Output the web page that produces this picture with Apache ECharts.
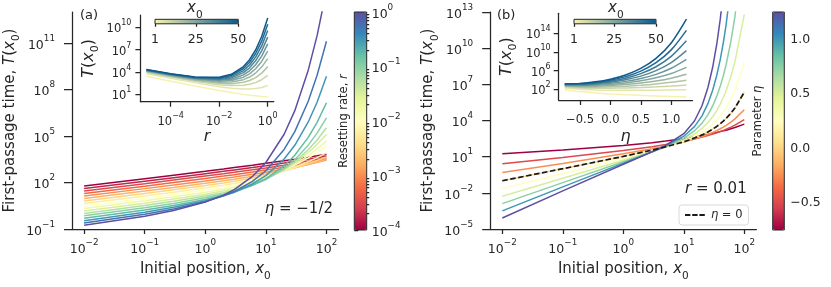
<!DOCTYPE html>
<html><head><meta charset="utf-8">
<script src="https://cdn.jsdelivr.net/npm/echarts@6/dist/echarts.min.js"></script>
<style>html,body{margin:0;padding:0;background:#fff}#c{width:831px;height:287px}</style>
</head><body><div id="c"></div><script>
// ---------------- DATA ----------------
// Panel (a) main: initial positions x0 and log10 T(x0) for resetting rates r = 10^(-4 ... 0)
const aX0 = [0.01, 0.1, 0.3, 1, 2, 3, 6, 10, 20, 30, 50, 70, 100];
const aLog10R = [-4, -3.75, -3.5, -3.25, -3, -2.75, -2.5, -2.25, -2, -1.75, -1.5, -1.25, -1, -0.75, -0.5, -0.25, 0];
const aLogT_k00 = [1.773, 2.244, 2.473, 2.727, 2.875, 2.964, 3.118, 3.235, 3.400, 3.501, 3.634, 3.726, 3.828];
const aLogT_k01 = [1.611, 2.083, 2.313, 2.569, 2.719, 2.809, 2.967, 3.087, 3.257, 3.362, 3.503, 3.602, 3.713];
const aLogT_k02 = [1.449, 1.923, 2.154, 2.412, 2.565, 2.656, 2.818, 2.942, 3.119, 3.230, 3.382, 3.488, 3.604];
const aLogT_k03 = [1.287, 1.764, 1.996, 2.257, 2.412, 2.506, 2.672, 2.801, 2.987, 3.107, 3.269, 3.382, 3.518];
const aLogT_k04 = [1.126, 1.605, 1.839, 2.104, 2.262, 2.358, 2.531, 2.665, 2.864, 2.993, 3.169, 3.298, 3.444];
const aLogT_k05 = [0.965, 1.446, 1.682, 1.952, 2.115, 2.214, 2.404, 2.557, 2.791, 2.944, 3.162, 3.319, 3.505];
const aLogT_k06 = [0.804, 1.288, 1.528, 1.803, 1.971, 2.074, 2.289, 2.468, 2.748, 2.943, 3.215, 3.418, 3.654];
const aLogT_k07 = [0.644, 1.131, 1.374, 1.656, 1.831, 1.939, 2.189, 2.396, 2.745, 2.987, 3.341, 3.602, 3.907];
const aLogT_k08 = [0.484, 0.975, 1.223, 1.514, 1.697, 1.812, 2.107, 2.365, 2.805, 3.126, 3.593, 3.942, 4.351];
const aLogT_k09 = [0.325, 0.821, 1.074, 1.376, 1.570, 1.697, 2.017, 2.303, 2.807, 3.180, 3.738, 4.165, 4.674];
const aLogT_k10 = [0.166, 0.668, 0.929, 1.245, 1.455, 1.585, 1.939, 2.258, 2.833, 3.267, 3.937, 4.462, 5.100];
const aLogT_k11 = [0.007, 0.518, 0.787, 1.123, 1.344, 1.497, 1.866, 2.209, 2.839, 3.330, 4.112, 4.743, 5.534];
const aLogT_k12 = [-0.150, 0.371, 0.651, 1.010, 1.257, 1.421, 1.820, 2.196, 2.906, 3.474, 4.409, 5.183, 6.174];
const aLogT_k13 = [-0.306, 0.227, 0.521, 0.909, 1.182, 1.377, 1.817, 2.246, 3.078, 3.759, 4.910, 5.880, 7.144];
const aLogT_k14 = [-0.461, 0.087, 0.402, 0.826, 1.140, 1.370, 1.905, 2.443, 3.513, 4.399, 5.905, 7.180, 8.850];
const aLogT_k15 = [-0.614, -0.046, 0.289, 0.764, 1.136, 1.416, 2.077, 2.759, 4.134, 5.280, 7.244, 8.916, 11.116];
const aLogT_k16 = [-0.765, -0.172, 0.193, 0.737, 1.185, 1.538, 2.392, 3.291, 5.112, 6.635, 9.247, 11.474, 14.402];

// Panel (a) inset: log10 r grid and log10 T for x0 = 1, 5, ..., 50
const aiLog10R = [-5, -4, -3, -2, -1.5, -1, -0.75, -0.5, -0.25, 0];
const insetX0 = [1, 5, 10, 15, 20, 25, 30, 35, 40, 45, 50];
const aiLogT_x01 = [3.408, 2.755, 2.115, 1.510, 1.232, 0.984, 0.870, 0.787, 0.705, 0.681];
const aiLogT_x05 = [3.772, 3.133, 2.530, 2.011, 1.820, 1.707, 1.711, 1.773, 1.918, 2.180];
const aiLogT_x10 = [3.932, 3.306, 2.732, 2.287, 2.181, 2.207, 2.334, 2.567, 2.951, 3.535];
const aiLogT_x15 = [4.027, 3.411, 2.857, 2.468, 2.427, 2.607, 2.848, 3.243, 3.840, 4.712];
const aiLogT_x20 = [4.097, 3.490, 2.958, 2.625, 2.644, 2.963, 3.315, 3.854, 4.652, 5.792];
const aiLogT_x25 = [4.151, 3.551, 3.037, 2.755, 2.843, 3.292, 3.746, 4.427, 5.412, 6.802];
const aiLogT_x30 = [4.195, 3.600, 3.101, 2.872, 3.026, 3.602, 4.155, 4.970, 6.130, 7.759];
const aiLogT_x35 = [4.234, 3.646, 3.164, 2.981, 3.200, 3.899, 4.548, 5.490, 6.824, 8.679];
const aiLogT_x40 = [4.268, 3.687, 3.223, 3.084, 3.365, 4.184, 4.926, 5.992, 7.487, 9.563];
const aiLogT_x45 = [4.299, 3.723, 3.274, 3.181, 3.524, 4.459, 5.290, 6.472, 8.131, 10.416];
const aiLogT_x50 = [4.326, 3.755, 3.320, 3.273, 3.677, 4.726, 5.643, 6.946, 8.758, 11.252];

// Panel (b) main: r = 0.01, curves for eta
const bX0 = [0.01, 0.1, 1, 3, 5, 10, 15, 20, 25, 30, 35, 40, 45, 50, 60, 70, 100];
const bEta = [-0.75, -0.5, -0.25, 0, 0.25, 0.5, 0.75, 1.0, 1.25];
const bLogT_em075 = [1.233, 1.544, 1.924, 2.156, 2.291, 2.487, 2.635, 2.740, 2.839, 2.921, 3.004, 3.077, 3.141, 3.198, 3.318, 3.420, 3.700];
const bLogT_em050 = [0.408, 0.932, 1.508, 1.832, 2.011, 2.277, 2.466, 2.621, 2.755, 2.871, 2.981, 3.084, 3.181, 3.273, 3.449, 3.613, 4.067];
const bLogT_em025 = [-0.318, 0.442, 1.233, 1.655, 1.874, 2.220, 2.464, 2.665, 2.844, 3.008, 3.164, 3.314, 3.458, 3.599, 3.871, 4.137, 4.896];
const bLogT_e000 = [-1.000, 0.002, 1.022, 1.544, 1.812, 2.235, 2.542, 2.805, 3.049, 3.281, 3.507, 3.729, 3.950, 4.168, 4.605, 5.040, 6.343];
const bLogT_e025 = [-1.652, -0.403, 0.850, 1.474, 1.791, 2.298, 2.682, 3.030, 3.365, 3.700, 4.035, 4.375, 4.720, 5.070, 5.782, 6.511, 8.770];
const bLogT_e050 = [-2.283, -0.786, 0.705, 1.431, 1.798, 2.398, 2.880, 3.345, 3.820, 4.313, 4.825, 5.356, 5.905, 6.469, 7.641, 8.866, 12.800];
const bLogT_e075 = [-2.897, -1.151, 0.579, 1.408, 1.825, 2.530, 3.145, 3.782, 4.472, 5.209, 5.998, 6.832, 7.711, 8.624, 10.562, 12.625, 19.480];
const bLogT_e100 = [-3.497, -1.502, 0.468, 1.400, 1.869, 2.698, 3.494, 4.385, 5.394, 6.514, 7.735, 9.051, 10.454, 11.939, 15.135, null, null];
const bLogT_e125 = [-4.087, -1.842, 0.369, 1.404, 1.926, 2.907, 3.957, 5.223, 6.714, 8.414, 10.305, 12.385, 14.633, null, null, null, null];

// Panel (b) inset: eta grid and log10 T for x0 = 1, 5, ..., 50
const biEta = [-0.75, -0.5, -0.25, 0, 0.25, 0.5, 0.75, 1.0, 1.25];
const biLogT_x01 = [1.924, 1.508, 1.233, 1.022, 0.850, 0.705, 0.579, 0.468, 0.369];
const biLogT_x05 = [2.291, 2.011, 1.874, 1.812, 1.791, 1.798, 1.825, 1.869, 1.926];
const biLogT_x10 = [2.487, 2.277, 2.220, 2.235, 2.298, 2.398, 2.530, 2.698, 2.907];
const biLogT_x15 = [2.635, 2.466, 2.464, 2.542, 2.682, 2.880, 3.145, 3.494, 3.957];
const biLogT_x20 = [2.740, 2.621, 2.665, 2.805, 3.030, 3.345, 3.782, 4.385, 5.223];
const biLogT_x25 = [2.839, 2.755, 2.844, 3.049, 3.365, 3.820, 4.472, 5.394, 6.714];
const biLogT_x30 = [2.921, 2.871, 3.008, 3.281, 3.700, 4.313, 5.209, 6.514, 8.414];
const biLogT_x35 = [3.004, 2.981, 3.164, 3.507, 4.035, 4.825, 5.998, 7.735, 10.305];
const biLogT_x40 = [3.077, 3.084, 3.314, 3.729, 4.375, 5.356, 6.832, 9.051, 12.385];
const biLogT_x45 = [3.141, 3.181, 3.458, 3.950, 4.720, 5.905, 7.711, 10.454, 14.633];
const biLogT_x50 = [3.198, 3.273, 3.599, 4.168, 5.070, 6.469, 8.624, 11.939, 17.030];

// Tick values (exponents / values)
const aMainXTicks = [-2, -1, 0, 1, 2];
const aMainYTicks = [-1, 2, 5, 8, 11];
const bMainYTicks = [-5, -2, 1, 4, 7, 10, 13];
const aInsetXTicks = [-4, -2, 0];
const aInsetYTicks = [1, 4, 7, 10];
const bInsetXTicks = [-0.5, 0, 0.5, 1.0];
const bInsetYTicks = [2, 6, 10, 14];
const aCbarTicks = [-4, -3, -2, -1, 0];
const bCbarTicks = [-0.5, 0, 0.5, 1.0];
const insetCbarTicks = [1, 25, 50];

// ---------------- STYLE HELPERS ----------------
const FF = 'DejaVu Sans';
const AX = '#262626';
const SPECTRAL = ['#9e0142','#d53e4f','#f46d43','#fdae61','#fee08b','#ffffbf','#e6f598','#abdda4','#66c2a5','#3288bd','#5e4fa2'];
const INSET_CMAP = ['#f7f1ae', '#0c5a8e'];
function hex2rgb(h){return [parseInt(h.slice(1,3),16),parseInt(h.slice(3,5),16),parseInt(h.slice(5,7),16)];}
function cmap(stops,t){t=Math.max(0,Math.min(1,t));const n=stops.length-1;const p=t*n;const i=Math.min(Math.floor(p),n-1);const f=p-i;const a=hex2rgb(stops[i]),b=hex2rgb(stops[i+1]);return 'rgb('+a.map((v,j)=>Math.round(v+(b[j]-v)*f)).join(',')+')';}
function supTxt(v){return v<0?'\u2212'+Math.abs(v):String(v);}
function decTxt(v){return v<0?'\u2212'+Math.abs(v).toFixed(1):v.toFixed(1);}
function logLabel(fs, ss, margin, vals, lh){
  lh = lh || 18;
  return {customValues: vals, margin: margin, formatter: v => '{b|10}{s|' + supTxt(Math.round(v)) + '}',
    rich: {b:{fontSize:fs,fontFamily:FF,color:AX,lineHeight:lh,verticalAlign:'bottom'},
           s:{fontSize:ss,fontFamily:FF,color:AX,lineHeight:Math.round(lh/2),verticalAlign:'top'}}};
}
function nameRich(fs, lh){
  lh = lh || 20;
  const base = {fontSize:fs,fontFamily:FF,color:AX,lineHeight:lh,verticalAlign:'top',fontWeight:'normal'};
  return {fontWeight:'normal', rich:{n:base, i:Object.assign({},base,{fontStyle:'italic'}),
                u:{fontSize:fs*0.7,fontFamily:FF,color:AX,lineHeight:Math.round(lh*0.6),verticalAlign:'bottom',fontWeight:'normal'}}};
}
const lineAx = {show:true, onZero:false, lineStyle:{color:AX,width:1.25}};
function tick(vals,len){return {show:true, customValues:vals, length:len, lineStyle:{color:AX,width:1.25}};}
const hiddenAx = (g)=>({gridIndex:g, type:'value', show:false, min:0, max:1});
function titleAxis(g, name, gap){
  return {gridIndex:g, type:'value', position:'left', min:0, max:1, axisLine:{show:false}, axisTick:{show:false},
    axisLabel:{show:false}, splitLine:{show:false}, name:name, nameLocation:'middle', nameGap:gap, nameRotate:90,
    nameTextStyle:{fontWeight:'normal', rich:{n:{fontSize:11.5,fontFamily:FF,color:AX,lineHeight:14},
      i:{fontSize:11.5,fontFamily:FF,color:AX,fontStyle:'italic',lineHeight:14}}}};
}

// ---------------- SERIES ----------------
const series = [];
series.push({type:'line', xAxisIndex:4, yAxisIndex:4, data:[], silent:true}); // colorbar anchor
function addLine(xi, yi, xs, ys, color, width, extra){
  series.push(Object.assign({type:'line', xAxisIndex:xi, yAxisIndex:yi, showSymbol:false, symbol:'none',
    smooth:false, silent:true, clip:true,
    data: xs.map((x,i)=>[x, ys[i]]), lineStyle:{color:color, width:width}, itemStyle:{color:color}}, extra||{}));
}
const aCurves = [aLogT_k00,aLogT_k01,aLogT_k02,aLogT_k03,aLogT_k04,aLogT_k05,aLogT_k06,aLogT_k07,aLogT_k08,aLogT_k09,aLogT_k10,aLogT_k11,aLogT_k12,aLogT_k13,aLogT_k14,aLogT_k15,aLogT_k16];
const aLX = aX0.map(Math.log10);
aCurves.forEach((ys,k)=>addLine(0,0,aLX,ys,cmap(SPECTRAL,(aLog10R[k]+4)/4),1.5));
const aiCurves = [aiLogT_x01,aiLogT_x05,aiLogT_x10,aiLogT_x15,aiLogT_x20,aiLogT_x25,aiLogT_x30,aiLogT_x35,aiLogT_x40,aiLogT_x45,aiLogT_x50];
aiCurves.forEach((ys,j)=>addLine(1,1,aiLog10R,ys,cmap(INSET_CMAP,(insetX0[j]-1)/49),1.5));
const bCurves = [bLogT_em075,bLogT_em050,bLogT_em025,bLogT_e000,bLogT_e025,bLogT_e050,bLogT_e075,bLogT_e100,bLogT_e125];
const bLX = bX0.map(Math.log10);
bCurves.forEach((ys,j)=>addLine(2,2,bLX,ys,cmap(SPECTRAL,(bEta[j]+0.75)/2),1.5));
addLine(2,2,bLX,bLogT_e000,'#1a1a1a',1.7,{name:'eta0', lineStyle:{color:'#1a1a1a',width:1.7,type:[5.5,2.6]}});
const biCurves = [biLogT_x01,biLogT_x05,biLogT_x10,biLogT_x15,biLogT_x20,biLogT_x25,biLogT_x30,biLogT_x35,biLogT_x40,biLogT_x45,biLogT_x50];
biCurves.forEach((ys,j)=>addLine(3,3,biEta,ys,cmap(INSET_CMAP,(insetX0[j]-1)/49),1.5,{smooth:0.3}));

const minorA = [];
for (let e=-4;e<0;e++) for (let m=2;m<10;m++) minorA.push(e+Math.log10(m));

// ---------------- OPTION ----------------
const plainTitle = (fs)=>({fontSize:fs, fontWeight:'normal', fontFamily:FF, color:AX,
  rich:{i:{fontSize:fs,fontStyle:'italic',fontFamily:FF,color:AX,fontWeight:'normal'}}});
const option = {
  animation:false,
  textStyle:{fontFamily:FF, color:AX},
  title:[
    {text:'(a)', left:80, top:9, padding:0, textStyle:plainTitle(13)},
    {text:'(b)', left:497, top:9, padding:0, textStyle:plainTitle(13)},
    {text:'{i|\u03B7} = \u22121/2', right:498, top:202, padding:0, textStyle:plainTitle(15)},
    {text:'{i|r} = 0.01', left:685, top:182, padding:0, textStyle:plainTitle(15)},
    {text:'{i|x}{u|0}', left:187, top:1, padding:0, textStyle:Object.assign({fontSize:15}, nameRich(15))},
    {text:'{i|x}{u|0}', left:608, top:1, padding:0, textStyle:Object.assign({fontSize:15}, nameRich(15))}
  ],
  legend:{data:['eta0'], left:679, top:205, padding:[4,6,4,6], itemWidth:22, itemHeight:1.8, itemGap:6,
    icon:'path://M0,0h6v2h-6z M8,0h6v2h-6z M16,0h6v2h-6z',
    backgroundColor:'#fff', borderColor:'#d9d9d9', borderWidth:1, borderRadius:3,
    formatter:()=>'{i|\u03B7} = 0',
    textStyle:{fontSize:11.5, fontFamily:FF, color:AX, rich:{i:{fontSize:11.5,fontStyle:'italic',fontFamily:FF,color:AX}}}},
  grid:[
    {left:72, top:12, width:266.6, height:218},
    {left:140.4, top:15, width:133.4, height:86.7},
    {left:490.2, top:12, width:266.2, height:218},
    {left:558.7, top:13.3, width:133.8, height:86.7},
    {left:354.3, top:12, width:12.4, height:218, show:true, borderColor:AX, borderWidth:1, backgroundColor:'transparent', z:5},
    {left:772.7, top:12, width:11.6, height:218, show:true, borderColor:AX, borderWidth:1, backgroundColor:'transparent', z:5},
    {left:155, top:19.3, width:83.3, height:4.5, show:true, borderColor:AX, borderWidth:1, backgroundColor:'transparent', z:5},
    {left:574, top:19.3, width:82, height:4.5, show:true, borderColor:AX, borderWidth:1, backgroundColor:'transparent', z:5}
  ],
  xAxis:[
    {gridIndex:0, type:'value', min:-2.2, max:2.2, axisLine:lineAx, splitLine:{show:false}, axisTick:tick(aMainXTicks,5),
      axisLabel:logLabel(12.5,8.8,9,aMainXTicks),
      name:'{n|Initial position, }{i|x}{u|0}', nameLocation:'middle', nameGap:33, nameTextStyle:nameRich(15)},
    {gridIndex:1, type:'value', min:-5.25, max:0.25, axisLine:lineAx, splitLine:{show:false}, axisTick:tick(aInsetXTicks,5),
      axisLabel:logLabel(11.5,8,10,aInsetXTicks,16),
      name:'{i|r}', nameLocation:'middle', nameGap:23, nameTextStyle:nameRich(16)},
    {gridIndex:2, type:'value', min:-2.2, max:2.2, axisLine:lineAx, splitLine:{show:false}, axisTick:tick(aMainXTicks,5),
      axisLabel:logLabel(12.5,8.8,9,aMainXTicks),
      name:'{n|Initial position, }{i|x}{u|0}', nameLocation:'middle', nameGap:33, nameTextStyle:nameRich(15)},
    {gridIndex:3, type:'value', min:-0.85, max:1.35, axisLine:lineAx, splitLine:{show:false}, axisTick:tick(bInsetXTicks,5),
      axisLabel:{customValues:bInsetXTicks, margin:12, formatter:decTxt, fontSize:11.5, fontFamily:FF, color:AX, lineHeight:16},
      name:'{i|\u03B7}', nameLocation:'middle', nameGap:23, nameTextStyle:nameRich(16)},
    hiddenAx(4), hiddenAx(5),
    {gridIndex:6, type:'value', min:1, max:50, axisLine:{show:false}, splitLine:{show:false}, axisTick:tick(insetCbarTicks,3),
      axisLabel:{customValues:insetCbarTicks, margin:8, fontSize:12.5, fontFamily:FF, color:AX, lineHeight:16}},
    {gridIndex:7, type:'value', min:1, max:50, axisLine:{show:false}, splitLine:{show:false}, axisTick:tick(insetCbarTicks,3),
      axisLabel:{customValues:insetCbarTicks, margin:8, fontSize:12.5, fontFamily:FF, color:AX, lineHeight:16}}
  ],
  yAxis:[
    {gridIndex:0, type:'value', min:-1, max:13, axisLine:lineAx, splitLine:{show:false}, axisTick:tick(aMainYTicks,8),
      axisLabel:logLabel(12.5,8.8,17,aMainYTicks),
      name:'{n|First-passage time, }{i|T}{n|(}{i|x}{u|0}{n|)}', nameLocation:'middle', nameGap:48, nameRotate:90, nameTextStyle:nameRich(15)},
    {gridIndex:1, type:'value', min:0, max:11.65, axisLine:lineAx, splitLine:{show:false}, axisTick:tick(aInsetYTicks,5),
      axisLabel:logLabel(11.5,8,9,aInsetYTicks,16),
      name:'{i|T}{n|(}{i|x}{u|0}{n|)}', nameLocation:'middle', nameGap:40, nameRotate:90, nameTextStyle:nameRich(16)},
    {gridIndex:2, type:'value', min:-5, max:13, axisLine:lineAx, splitLine:{show:false}, axisTick:tick(bMainYTicks,8),
      axisLabel:logLabel(12.5,8.8,17,bMainYTicks),
      name:'{n|First-passage time, }{i|T}{n|(}{i|x}{u|0}{n|)}', nameLocation:'middle', nameGap:48, nameRotate:90, nameTextStyle:nameRich(15)},
    {gridIndex:3, type:'value', min:-0.29, max:18.29, axisLine:lineAx, splitLine:{show:false}, axisTick:tick(bInsetYTicks,5),
      axisLabel:logLabel(11.5,8,8,bInsetYTicks,16),
      name:'{i|T}{n|(}{i|x}{u|0}{n|)}', nameLocation:'middle', nameGap:40, nameRotate:90, nameTextStyle:nameRich(16)},
    {gridIndex:4, type:'value', position:'right', min:-4, max:0, axisLine:{show:false}, splitLine:{show:false}, axisTick:tick(aCbarTicks,4),
      axisLabel:logLabel(12.5,8.8,5,aCbarTicks)},
    {gridIndex:4, type:'value', position:'right', min:-4, max:0, axisLine:{show:false}, splitLine:{show:false}, axisTick:tick(minorA,2.5),
      axisLabel:{show:false}},
    {gridIndex:5, type:'value', position:'right', min:-0.75, max:1.25, axisLine:{show:false}, splitLine:{show:false}, axisTick:tick(bCbarTicks,4),
      axisLabel:{customValues:bCbarTicks, margin:6, formatter:decTxt, fontSize:12.5, fontFamily:FF, color:AX}},
    hiddenAx(6), hiddenAx(7),
    titleAxis(4, '{n|Resetting rate, }{i|r}', 3),
    titleAxis(5, '{n|Parameter }{i|\u03B7}', 8)
  ],
  visualMap:[
    {type:'continuous', seriesIndex:0, min:-4, max:0, orient:'vertical', left:354.3, top:12, itemWidth:12.4, itemHeight:218,
      padding:0, calculable:false, text:null, showLabel:false, hoverLink:false, inRange:{color:SPECTRAL}},
    {type:'continuous', seriesIndex:0, min:-0.75, max:1.25, orient:'vertical', left:772.7, top:12, itemWidth:11.6, itemHeight:218,
      padding:0, calculable:false, text:null, showLabel:false, hoverLink:false, inRange:{color:SPECTRAL}},
    {type:'continuous', seriesIndex:0, min:1, max:50, orient:'horizontal', left:155, top:19.3, itemWidth:4.5, itemHeight:83.3,
      padding:0, calculable:false, text:null, showLabel:false, hoverLink:false, inRange:{color:INSET_CMAP}},
    {type:'continuous', seriesIndex:0, min:1, max:50, orient:'horizontal', left:574, top:19.3, itemWidth:4.5, itemHeight:82,
      padding:0, calculable:false, text:null, showLabel:false, hoverLink:false, inRange:{color:INSET_CMAP}}
  ],
  series: series
};
const chart = echarts.init(document.getElementById('c'), null, {renderer:'canvas'});
chart.setOption(option);
</script></body></html>
